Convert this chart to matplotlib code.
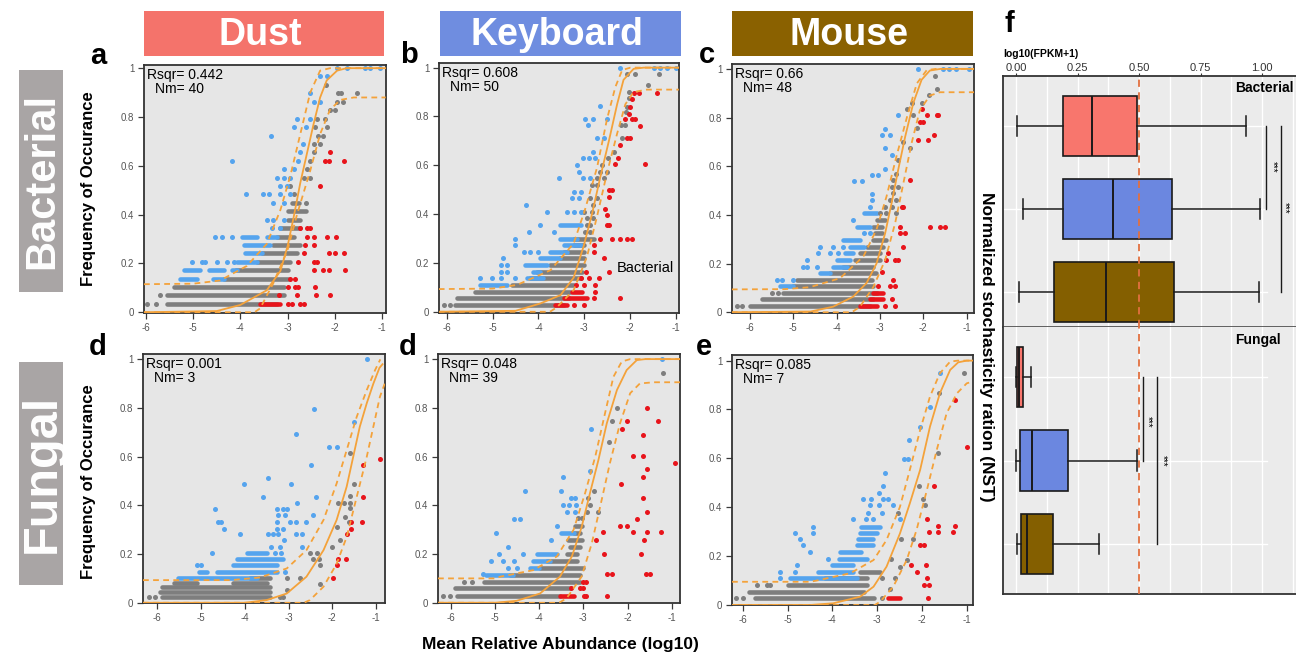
import matplotlib
matplotlib.use("Agg")
import matplotlib.pyplot as plt
from matplotlib.patches import Rectangle

plt.rcParams['font.family'] = ['Liberation Sans', 'DejaVu Sans']

W, H = 1296, 663

# ---------------- colours ----------------
BG = '#E6E6E6'
GRAY = '#7E7E7E'
BLUE = '#55A4EE'
RED = '#E8141B'
ORANGE = '#F4A23A'
HEAD_COLS = ['#F4736B', '#6F8DE0', '#8A6100']
BOX_COLS = ['#F8766D', '#6B87E0', '#845F00']

# ---------------- shared labels ----------------
sources = ['Dust', 'Keyboard', 'Mouse']
kingdoms = ['Bacterial', 'Fungal']
x_ticks = [-6, -5, -4, -3, -2, -1]
x_tick_labels = ['-6', '-5', '-4', '-3', '-2', '-1']
y_ticks = [0, 0.2, 0.4, 0.6, 0.8, 1.0]
y_tick_labels = ['0', '0.2', '0.4', '0.6', '0.8', '1']

# ---------------- panel a : Bacterial / Dust ----------------
a_rsqr, a_nm = '0.442', '40'
a_gray_rows = [(0.035, -5.55, -3.22), (0.069, -5.55, -3.08), (0.104, -5.41, -3.08),
               (0.138, -4.35, -3.0), (0.172, -4.1, -2.98), (0.207, -3.65, -2.94),
               (0.242, -3.54, -2.8), (0.276, -3.3, -2.73), (0.31, -3.22, -2.87),
               (0.345, -3.15, -2.73), (0.379, -2.98, -2.73), (0.414, -3.0, -2.6),
               (0.448, -2.9, -2.75)]
a_gray_pts = [(-5.98, 0.035), (-5.78, 0.035), (-5.7, 0.069), (-2.6, 0.448), (-2.87, 0.483),
              (-2.94, 0.518), (-2.66, 0.552), (-2.52, 0.552), (-2.59, 0.587), (-2.52, 0.62),
              (-2.45, 0.655), (-2.45, 0.69), (-2.31, 0.69), (-2.35, 0.724), (-2.24, 0.724),
              (-2.42, 0.758), (-2.17, 0.758), (-2.38, 0.793), (-2.21, 0.793), (-2.1, 0.828),
              (-2.0, 0.828), (-1.82, 0.862), (-1.96, 0.862), (-1.86, 0.897), (-1.93, 0.897),
              (-1.53, 0.897), (-2.19, 0.931)]
a_blue_rows = [(0.138, -5.27, -4.92), (0.138, -4.57, -4.35), (0.172, -5.2, -4.85),
               (0.172, -4.67, -4.35), (0.172, -4.18, -4.07), (0.207, -4.07, -3.65),
               (0.242, -3.9, -3.54), (0.276, -3.93, -3.37), (0.31, -3.97, -3.65),
               (0.31, -3.44, -3.22)]
a_blue_pts = [(-5.03, 0.207), (-4.81, 0.207), (-4.74, 0.207), (-4.5, 0.207), (-4.28, 0.207),
              (-4.14, 0.207), (-4.53, 0.31), (-4.39, 0.31), (-4.18, 0.31), (-3.33, 0.345),
              (-3.15, 0.345), (-3.44, 0.379), (-3.3, 0.379), (-3.07, 0.379), (-3.3, 0.448),
              (-3.07, 0.448), (-3.88, 0.483), (-3.52, 0.483), (-3.4, 0.483), (-3.15, 0.483),
              (-2.94, 0.483), (-3.15, 0.518), (-3.01, 0.518), (-3.22, 0.552), (-3.08, 0.552),
              (-2.94, 0.552), (-3.07, 0.587), (-2.87, 0.587), (-4.18, 0.62), (-2.77, 0.62),
              (-2.74, 0.655), (-2.67, 0.69), (-3.35, 0.724), (-2.86, 0.758), (-2.6, 0.758),
              (-2.8, 0.793), (-2.52, 0.793), (-2.45, 0.862), (-2.32, 0.862), (-2.53, 0.897),
              (-2.32, 0.966), (-2.17, 0.966), (-1.95, 1.0), (-1.74, 1.0), (-1.35, 1.0),
              (-1.25, 1.0), (-1.04, 1.0)]
a_red_rows = [(0.035, -3.58, -3.15)]
a_red_pts = [(-2.98, 0.035), (-2.91, 0.035), (-2.73, 0.035), (-2.66, 0.035), (-3.19, 0.069),
             (-2.79, 0.069), (-2.39, 0.069), (-2.1, 0.069), (-2.98, 0.104), (-2.84, 0.104),
             (-2.77, 0.104), (-2.41, 0.104), (-2.94, 0.138), (-2.84, 0.138), (-2.45, 0.172),
             (-2.24, 0.172), (-2.13, 0.172), (-1.78, 0.172), (-2.77, 0.207), (-2.45, 0.207),
             (-2.38, 0.207), (-2.66, 0.242), (-2.13, 0.242), (-1.99, 0.242), (-1.81, 0.242),
             (-2.62, 0.276), (-2.45, 0.276), (-2.59, 0.31), (-2.45, 0.31), (-2.17, 0.31),
             (-1.97, 0.31), (-2.73, 0.345), (-2.59, 0.345), (-2.52, 0.345), (-2.32, 0.518),
             (-2.2, 0.62), (-2.13, 0.62), (-1.81, 0.62), (-2.1, 0.655)]
a_fit_x = [-6.04, -4.5, -4.0, -3.44, -3.15, -3.0, -2.87, -2.73, -2.59, -2.45, -2.31, -2.17, -1.95, -1.75, -0.92]
a_fit_y = [0.0, 0.005, 0.03, 0.09, 0.17, 0.27, 0.39, 0.53, 0.65, 0.77, 0.88, 0.95, 0.99, 1.0, 1.0]
a_up_x = [-6.04, -5.0, -4.43, -3.86, -3.44, -3.15, -2.94, -2.73, -2.52, -2.31, -2.1, -0.92]
a_up_y = [0.115, 0.117, 0.13, 0.19, 0.28, 0.42, 0.56, 0.73, 0.9, 0.99, 1.0, 1.0]
a_lo_x = [-6.04, -3.7, -3.58, -3.3, -3.0, -2.8, -2.52, -2.31, -2.1, -1.88, -1.6, -0.92]
a_lo_y = [0.0, 0.0, 0.016, 0.12, 0.255, 0.4, 0.58, 0.73, 0.83, 0.87, 0.88, 0.88]

# ---------------- panel b : Bacterial / Keyboard ----------------
b_rsqr, b_nm = '0.608', '50'
b_gray_rows = [(0.027, -5.82, -3.45), (0.055, -5.78, -3.34), (0.082, -5.38, -3.3),
               (0.109, -4.58, -3.23), (0.137, -4.18, -3.08), (0.164, -4.03, -3.05),
               (0.191, -3.74, -3.01), (0.219, -3.52, -3.01), (0.246, -3.45, -3.01),
               (0.273, -3.23, -3.01), (0.3, -3.23, -2.79)]
b_gray_pts = [(-6.07, 0.027), (-5.93, 0.027), (-2.98, 0.328), (-2.87, 0.328), (-2.94, 0.355),
              (-2.87, 0.355), (-2.94, 0.383), (-2.81, 0.383), (-3.01, 0.41), (-2.83, 0.41),
              (-2.81, 0.437), (-2.87, 0.465), (-2.72, 0.465), (-2.83, 0.52), (-2.72, 0.52),
              (-2.72, 0.547), (-2.57, 0.547), (-2.65, 0.574), (-2.5, 0.574), (-2.6, 0.602),
              (-2.47, 0.63), (-2.35, 0.656), (-2.17, 0.71), (-2.19, 0.765), (-2.1, 0.765),
              (-2.08, 0.82), (-2.06, 0.84), (-2.03, 0.875), (-2.01, 0.9), (-1.61, 0.93),
              (-2.06, 0.975), (-1.9, 0.975), (-1.36, 0.975)]
b_blue_rows = [(0.109, -5.27, -4.69), (0.137, -4.25, -3.89), (0.164, -4.11, -3.96),
               (0.191, -4.29, -3.81), (0.219, -3.96, -3.52), (0.246, -3.74, -3.38),
               (0.273, -3.45, -3.08), (0.3, -3.52, -3.16), (0.355, -3.52, -3.08)]
b_blue_pts = [(-5.27, 0.137), (-5.02, 0.137), (-4.83, 0.137), (-4.51, 0.137), (-4.83, 0.164),
              (-4.69, 0.164), (-4.83, 0.191), (-4.69, 0.191), (-4.78, 0.219), (-4.32, 0.246),
              (-4.18, 0.246), (-4.0, 0.246), (-4.51, 0.273), (-4.51, 0.3), (-4.21, 0.328),
              (-3.67, 0.328), (-3.96, 0.355), (-3.81, 0.41), (-3.38, 0.41), (-3.23, 0.41),
              (-3.08, 0.41), (-4.27, 0.437), (-3.27, 0.465), (-3.12, 0.465), (-3.23, 0.492),
              (-3.08, 0.492), (-3.56, 0.547), (-3.03, 0.547), (-2.88, 0.547), (-3.11, 0.574),
              (-3.16, 0.602), (-3.03, 0.63), (-2.9, 0.63), (-2.76, 0.63), (-2.8, 0.656),
              (-2.72, 0.71), (-2.57, 0.71), (-2.92, 0.765), (-2.98, 0.79), (-2.81, 0.79),
              (-2.5, 0.79), (-2.65, 0.843), (-2.21, 1.0), (-1.48, 1.0), (-1.34, 1.0),
              (-1.19, 1.0), (-0.99, 1.0)]
b_red_rows = [(0.027, -3.63, -3.38), (0.055, -3.45, -2.94), (0.082, -3.27, -3.05)]
b_red_pts = [(-3.23, 0.027), (-3.01, 0.027), (-2.79, 0.055), (-2.21, 0.055), (-2.76, 0.082),
             (-3.19, 0.109), (-3.01, 0.109), (-2.76, 0.109), (-3.08, 0.137), (-2.9, 0.137),
             (-2.68, 0.137), (-2.97, 0.164), (-2.46, 0.164), (-2.56, 0.219), (-2.79, 0.246),
             (-2.79, 0.273), (-2.65, 0.3), (-2.39, 0.3), (-2.21, 0.3), (-2.06, 0.3),
             (-1.95, 0.3), (-2.5, 0.355), (-2.46, 0.355), (-2.5, 0.396), (-2.54, 0.42),
             (-2.46, 0.47), (-2.46, 0.5), (-2.39, 0.5), (-2.32, 0.605), (-1.66, 0.605),
             (-2.25, 0.63), (-2.21, 0.683), (-2.06, 0.71), (-2.0, 0.71), (-1.77, 0.76),
             (-2.1, 0.79), (-1.95, 0.79), (-1.88, 0.79), (-2.0, 0.84), (-2.03, 0.81),
             (-1.95, 0.87), (-1.92, 0.895), (-1.81, 0.895), (-1.41, 0.895)]
b_fit_x = [-6.18, -4.5, -3.96, -3.52, -3.23, -3.01, -2.83, -2.65, -2.46, -2.28, -2.14, -1.92, -1.7, -0.93]
b_fit_y = [0.0, 0.004, 0.034, 0.068, 0.14, 0.27, 0.40, 0.55, 0.70, 0.85, 0.95, 0.995, 1.0, 1.0]
b_up_x = [-6.18, -5.0, -4.47, -3.74, -3.23, -2.98, -2.72, -2.5, -2.32, -2.17, -1.99, -0.93]
b_up_y = [0.093, 0.095, 0.11, 0.17, 0.28, 0.42, 0.59, 0.79, 0.92, 0.99, 1.0, 1.0]
b_lo_x = [-6.18, -3.75, -3.6, -3.23, -2.94, -2.72, -2.5, -2.28, -2.1, -1.92, -1.63, -0.93]
b_lo_y = [0.0, 0.0, 0.018, 0.089, 0.225, 0.39, 0.57, 0.73, 0.85, 0.9, 0.91, 0.91]

# ---------------- panel c : Bacterial / Mouse ----------------
c_rsqr, c_nm = '0.66', '48'
c_gray_rows = [(0.026, -6.0, -3.23), (0.053, -5.73, -3.15), (0.081, -5.23, -3.08),
               (0.108, -5.0, -3.15), (0.133, -4.92, -3.19), (0.16, -4.15, -3.1),
               (0.188, -3.85, -3.15), (0.215, -3.58, -3.0), (0.242, -3.46, -3.0),
               (0.27, -3.31, -2.92), (0.297, -3.15, -2.85), (0.325, -3.12, -2.96),
               (0.352, -3.15, -2.96), (0.38, -3.08, -2.88)]
c_gray_pts = [(-6.31, 0.026), (-6.19, 0.026), (-5.5, 0.081), (-5.35, 0.081), (-3.0, 0.407),
              (-2.85, 0.407), (-2.62, 0.407), (-2.88, 0.434), (-2.73, 0.434), (-2.77, 0.46),
              (-2.62, 0.46), (-2.69, 0.49), (-2.73, 0.516), (-2.58, 0.516), (-2.69, 0.544),
              (-2.62, 0.57), (-2.58, 0.626), (-2.31, 0.674), (-2.46, 0.70), (-2.15, 0.756),
              (-2.23, 0.81), (-2.38, 0.834), (-2.27, 0.86), (-2.04, 0.86), (-1.88, 0.893),
              (-1.69, 0.916), (-1.73, 0.97)]
c_blue_rows = [(0.108, -5.31, -5.0), (0.16, -4.38, -4.15), (0.188, -4.08, -3.77),
               (0.215, -4.0, -3.69), (0.245, -3.81, -3.62), (0.27, -3.69, -3.38),
               (0.297, -3.85, -3.46), (0.352, -3.54, -3.23), (0.407, -3.38, -3.08)]
c_blue_pts = [(-5.38, 0.133), (-5.27, 0.133), (-5.0, 0.133), (-4.77, 0.188), (-4.69, 0.188),
              (-4.46, 0.188), (-4.69, 0.215), (-4.42, 0.245), (-4.15, 0.245), (-3.96, 0.245),
              (-4.38, 0.27), (-4.08, 0.27), (-3.85, 0.27), (-3.38, 0.325), (-3.23, 0.325),
              (-3.62, 0.38), (-3.23, 0.434), (-3.19, 0.46), (-3.19, 0.486), (-3.6, 0.54),
              (-3.42, 0.54), (-3.19, 0.564), (-3.04, 0.564), (-2.88, 0.59), (-2.88, 0.674),
              (-2.73, 0.646), (-2.96, 0.73), (-2.77, 0.73), (-2.88, 0.753), (-2.58, 0.81),
              (-2.12, 1.0), (-1.55, 1.0), (-1.4, 1.0), (-1.25, 1.0), (-0.94, 1.0)]
c_red_rows = [(0.026, -3.46, -3.08), (0.053, -3.23, -2.92), (0.081, -3.15, -2.92)]
c_red_pts = [(-2.88, 0.026), (-2.65, 0.026), (-2.73, 0.053), (-3.04, 0.108), (-2.77, 0.108),
             (-2.69, 0.133), (-2.65, 0.108), (-2.96, 0.167), (-2.85, 0.215), (-2.65, 0.215),
             (-2.58, 0.215), (-2.81, 0.242), (-2.46, 0.27), (-2.54, 0.325), (-2.42, 0.325),
             (-2.54, 0.352), (-1.85, 0.352), (-1.62, 0.352), (-1.5, 0.352), (-2.5, 0.434),
             (-2.46, 0.434), (-2.31, 0.544), (-2.12, 0.708), (-1.9, 0.708), (-1.75, 0.73),
             (-2.08, 0.783), (-2.0, 0.783), (-1.92, 0.81), (-1.69, 0.81), (-1.65, 0.81),
             (-2.02, 0.834)]
c_fit_x = [-6.42, -4.6, -4.08, -3.62, -3.31, -3.08, -2.88, -2.73, -2.58, -2.42, -2.23, -2.04, -1.85, -1.6, -0.83]
c_fit_y = [0.0, 0.003, 0.023, 0.064, 0.12, 0.2, 0.325, 0.45, 0.585, 0.72, 0.86, 0.955, 0.993, 1.0, 1.0]
c_up_x = [-6.42, -5.2, -4.62, -3.92, -3.38, -3.08, -2.85, -2.62, -2.38, -2.15, -1.92, -1.7, -0.83]
c_up_y = [0.094, 0.095, 0.103, 0.14, 0.23, 0.34, 0.475, 0.64, 0.8, 0.94, 0.995, 1.0, 1.0]
c_lo_x = [-6.42, -3.65, -3.46, -3.15, -2.88, -2.65, -2.46, -2.27, -2.08, -1.85, -1.62, -0.83]
c_lo_y = [0.0, 0.0, 0.023, 0.105, 0.215, 0.366, 0.53, 0.695, 0.83, 0.89, 0.904, 0.904]

# ---------------- panel d : Fungal / Dust ----------------
d_rsqr, d_nm = '0.001', '3'
d_gray_rows = [(0.025, -5.9, -3.42), (0.045, -5.94, -3.42), (0.063, -5.9, -3.42),
               (0.08, -5.63, -5.1), (0.08, -4.26, -3.5), (0.1, -3.88, -3.42)]
d_gray_pts = [(-6.2, 0.025), (-6.05, 0.025), (-3.2, 0.025), (-3.12, 0.025), (-3.03, 0.052),
              (-3.04, 0.1), (-2.74, 0.1), (-2.28, 0.077), (-2.51, 0.205), (-2.36, 0.205),
              (-2.43, 0.178), (-2.3, 0.178), (-2.27, 0.155), (-2.01, 0.23), (-1.9, 0.31),
              (-1.86, 0.41), (-1.74, 0.41), (-1.59, 0.41), (-1.82, 0.257), (-1.71, 0.353),
              (-1.6, 0.44), (-1.5, 0.488), (-1.59, 0.616), (-1.6, 0.39), (-1.62, 0.33)]
d_blue_rows = [(0.1, -5.54, -3.73), (0.127, -5.06, -4.87), (0.127, -4.64, -3.27),
               (0.155, -4.26, -3.27), (0.178, -4.19, -3.12), (0.205, -3.96, -3.5)]
d_blue_pts = [(-3.08, 0.127), (-5.1, 0.155), (-5.0, 0.155), (-3.3, 0.205), (-3.17, 0.205),
              (-4.74, 0.205), (-2.7, 0.23), (-3.4, 0.23), (-3.2, 0.23), (-3.1, 0.257),
              (-4.12, 0.282), (-3.47, 0.282), (-3.35, 0.282), (-3.24, 0.282), (-2.82, 0.282),
              (-2.7, 0.282), (-4.47, 0.305), (-3.27, 0.305), (-3.12, 0.305), (-4.61, 0.333),
              (-4.55, 0.333), (-3.27, 0.333), (-2.97, 0.333), (-2.82, 0.333), (-2.59, 0.333),
              (-3.24, 0.36), (-3.09, 0.36), (-2.43, 0.36), (-4.69, 0.384), (-3.27, 0.384),
              (-3.12, 0.384), (-3.03, 0.384), (-2.8, 0.41), (-3.59, 0.436), (-2.37, 0.436),
              (-4.01, 0.488), (-2.95, 0.488), (-3.48, 0.514), (-2.49, 0.566), (-2.07, 0.641),
              (-1.9, 0.641), (-2.83, 0.693), (-1.5, 0.744), (-2.41, 0.796), (-1.21, 1.0)]
d_red_rows = []
d_red_pts = [(-1.98, 0.1), (-1.9, 0.155), (-1.86, 0.178), (-1.69, 0.178), (-1.67, 0.282),
             (-1.58, 0.305), (-1.58, 0.333), (-1.33, 0.333), (-1.29, 0.436), (-1.29, 0.566),
             (-0.91, 0.589)]
d_fit_x = [-6.33, -4.0, -3.5, -3.04, -2.59, -2.2, -1.9, -1.67, -1.52, -1.37, -1.21, -1.06, -0.92, -0.85]
d_fit_y = [0.0, 0.0, 0.011, 0.038, 0.107, 0.216, 0.34, 0.477, 0.6, 0.723, 0.82, 0.9, 0.965, 0.98]
d_up_x = [-6.33, -4.3, -3.65, -3.04, -2.59, -2.2, -1.9, -1.67, -1.44, -1.21, -1.02, -0.9]
d_up_y = [0.093, 0.093, 0.104, 0.141, 0.216, 0.34, 0.49, 0.627, 0.764, 0.874, 0.956, 1.0]
d_lo_x = [-6.33, -2.65, -2.51, -2.2, -1.9, -1.67, -1.44, -1.21, -1.06, -0.91, -0.8]
d_lo_y = [0.0, 0.0, 0.011, 0.066, 0.16, 0.27, 0.435, 0.6, 0.723, 0.846, 0.9]

# ---------------- panel d (middle) : Fungal / Keyboard ----------------
k_rsqr, k_nm = '0.048', '39'
k_gray_rows = [(0.029, -5.86, -3.53), (0.059, -5.9, -3.3), (0.086, -5.26, -3.07),
               (0.114, -4.66, -3.07), (0.144, -3.98, -3.0), (0.172, -3.83, -3.15),
               (0.2, -3.38, -3.15), (0.23, -3.3, -3.07), (0.257, -3.34, -3.04),
               (0.287, -3.22, -3.07), (0.316, -3.19, -3.04)]
k_gray_pts = [(-6.17, 0.029), (-6.02, 0.029), (-5.71, 0.086), (-5.52, 0.086), (-3.11, 0.346),
              (-3.04, 0.346), (-2.92, 0.373), (-2.66, 0.373), (-2.85, 0.4), (-2.89, 0.43),
              (-2.77, 0.46), (-2.43, 0.658), (-2.36, 0.747), (-2.24, 0.8), (-1.2, 0.944)]
k_blue_rows = [(0.114, -5.2, -4.6), (0.144, -4.2, -4.0), (0.172, -4.13, -3.75),
               (0.2, -4.05, -3.6), (0.287, -3.5, -3.22)]
k_blue_pts = [(-5.28, 0.116), (-4.71, 0.144), (-4.5, 0.144), (-4.91, 0.2), (-4.37, 0.2),
              (-5.1, 0.172), (-4.82, 0.172), (-4.57, 0.172), (-4.71, 0.227), (-3.73, 0.257),
              (-4.97, 0.287), (-3.6, 0.316), (-4.57, 0.343), (-4.43, 0.343), (-3.38, 0.373),
              (-3.2, 0.373), (-3.47, 0.4), (-3.32, 0.4), (-3.17, 0.4), (-3.27, 0.43),
              (-3.18, 0.43), (-4.33, 0.457), (-3.5, 0.457), (-3.47, 0.517), (-2.86, 0.54),
              (-2.83, 0.715), (-1.21, 1.0)]
k_red_rows = [(0.029, -3.53, -3.22)]
k_red_pts = [(-2.98, 0.029), (-2.94, 0.029), (-2.47, 0.029), (-3.27, 0.059), (-3.07, 0.059),
             (-3.01, 0.059), (-3.0, 0.086), (-2.93, 0.086), (-2.46, 0.116), (-2.35, 0.116),
             (-2.53, 0.2), (-1.7, 0.2), (-2.72, 0.257), (-1.62, 0.257), (-2.56, 0.289),
             (-1.87, 0.289), (-1.55, 0.289), (-1.25, 0.289), (-2.17, 0.315), (-2.02, 0.315),
             (-1.79, 0.342), (-1.57, 0.373), (-1.66, 0.43), (-2.15, 0.487), (-1.64, 0.517),
             (-1.57, 0.547), (-0.92, 0.572), (-1.87, 0.602), (-1.64, 0.602), (-1.64, 0.688),
             (-2.13, 0.713), (-2.02, 0.747), (-1.32, 0.747), (-1.57, 0.8), (-1.58, 0.116),
             (-1.5, 0.116)]
k_fit_x = [-6.29, -5.0, -4.51, -3.98, -3.53, -3.26, -3.04, -2.85, -2.66, -2.47, -2.24, -2.02, -1.79, -1.6, -0.81]
k_fit_y = [0.0, 0.0, 0.008, 0.038, 0.107, 0.19, 0.31, 0.45, 0.585, 0.736, 0.873, 0.955, 0.996, 1.0, 1.0]
k_up_x = [-6.29, -5.0, -4.88, -4.13, -3.6, -3.22, -2.96, -2.73, -2.51, -2.32, -2.13, -1.94, -0.81]
k_up_y = [0.1, 0.1, 0.107, 0.134, 0.19, 0.3, 0.45, 0.6, 0.777, 0.927, 0.99, 1.0, 1.0]
k_lo_x = [-6.29, -3.55, -3.38, -3.04, -2.81, -2.62, -2.4, -2.17, -1.94, -1.72, -1.41, -0.81]
k_lo_y = [0.0, 0.0, 0.018, 0.107, 0.243, 0.394, 0.572, 0.736, 0.86, 0.9, 0.905, 0.905]

# ---------------- panel e : Fungal / Mouse ----------------
e_rsqr, e_nm = '0.085', '7'
e_gray_rows = [(0.03, -5.72, -3.08), (0.055, -5.87, -3.3), (0.082, -5.0, -3.23),
               (0.109, -4.16, -3.23), (0.136, -3.38, -2.93)]
e_gray_pts = [(-6.15, 0.03), (-6.0, 0.03), (-2.9, 0.03), (-5.69, 0.082), (-5.46, 0.082),
              (-5.4, 0.082), (-2.71, 0.064), (-2.49, 0.157), (-2.7, 0.187), (-2.34, 0.184),
              (-2.47, 0.27), (-2.19, 0.27), (-2.53, 0.378), (-2.06, 0.487), (-1.98, 0.432),
              (-1.94, 0.41), (-1.65, 0.62), (-1.61, 0.866), (-1.07, 0.948), (-2.9, 0.109),
              (-2.6, 0.109)]
e_blue_rows = [(0.109, -4.94, -3.46), (0.136, -4.31, -3.53), (0.164, -4.0, -3.55),
               (0.19, -3.86, -3.23), (0.218, -3.82, -3.37), (0.245, -3.45, -3.1),
               (0.27, -3.42, -3.1), (0.296, -3.38, -3.01), (0.32, -3.35, -2.93)]
e_blue_pts = [(-5.17, 0.136), (-5.17, 0.109), (-4.83, 0.136), (-4.78, 0.164), (-4.09, 0.187),
              (-4.5, 0.218), (-4.65, 0.245), (-4.72, 0.269), (-4.83, 0.296), (-4.44, 0.296),
              (-4.44, 0.32), (-3.54, 0.35), (-3.25, 0.35), (-3.1, 0.35), (-2.5, 0.35),
              (-3.2, 0.378), (-2.9, 0.378), (-3.15, 0.41), (-2.95, 0.41), (-2.65, 0.41),
              (-3.32, 0.432), (-3.14, 0.432), (-2.87, 0.432), (-2.75, 0.432), (-2.86, 0.487),
              (-2.95, 0.46), (-2.82, 0.54), (-2.4, 0.596), (-2.3, 0.596), (-2.28, 0.675),
              (-2.04, 0.73), (-1.83, 0.812), (-1.6, 0.948)]
e_red_rows = [(0.03, -2.75, -2.49)]
e_red_pts = [(-1.87, 0.03), (-1.96, 0.082), (-1.85, 0.082), (-1.89, 0.109), (-2.12, 0.136),
             (-2.24, 0.164), (-1.9, 0.164), (-2.04, 0.245), (-1.96, 0.245), (-1.84, 0.3),
             (-1.65, 0.3), (-1.3, 0.3), (-1.64, 0.325), (-1.27, 0.325), (-1.89, 0.35),
             (-1.74, 0.487), (-1.0, 0.648), (-1.26, 0.84)]
e_fit_x = [-6.24, -4.5, -3.98, -3.38, -3.08, -2.79, -2.49, -2.27, -2.04, -1.82, -1.6, -1.37, -1.19, -1.0, -0.86]
e_fit_y = [0.0, 0.0, 0.007, 0.034, 0.075, 0.157, 0.293, 0.416, 0.553, 0.73, 0.866, 0.962, 0.993, 1.0, 1.0]
e_up_x = [-6.24, -4.5, -4.35, -3.6, -3.08, -2.79, -2.49, -2.27, -2.04, -1.82, -1.6, -1.37, -1.2, -0.86]
e_up_y = [0.095, 0.095, 0.1, 0.13, 0.184, 0.266, 0.402, 0.553, 0.716, 0.853, 0.948, 0.996, 1.0, 1.0]
e_lo_x = [-6.24, -3.05, -2.93, -2.64, -2.34, -2.12, -1.89, -1.67, -1.45, -1.22, -1.0, -0.86]
e_lo_y = [0.0, 0.0, 0.014, 0.075, 0.184, 0.307, 0.47, 0.634, 0.784, 0.866, 0.907, 0.915]

# ---------------- panel f : NST boxplots ----------------
bac_low = [0.004, 0.028, 0.012]
bac_q1 = [0.19, 0.19, 0.155]
bac_med = [0.31, 0.395, 0.366]
bac_q3 = [0.49, 0.634, 0.642]
bac_high = [0.935, 0.99, 0.988]
fun_low = [0.0, 0.0, 0.003]
fun_q1 = [0.005, 0.016, 0.02]
fun_med = [0.012, 0.065, 0.045]
fun_q3 = [0.03, 0.21, 0.15]
fun_high = [0.062, 0.49, 0.337]
f_ticks = [0.0, 0.25, 0.5, 0.75, 1.0]
f_tick_labels = ['0.00', '0.25', '0.50', '0.75', '1.00']
f_grid = [0.0, 0.125, 0.25, 0.375, 0.5, 0.625, 0.75, 0.875, 1.0, 1.125]
nst_threshold = 0.5
# significance brackets: (x position, from group, to group, label x, label y)
bac_sig = [(1.016, 1, 2, 1.045, 1.49), (1.077, 1, 3, 1.094, 1.98)]
fun_sig = [(0.516, 1, 2, 0.537, 1.54), (0.573, 1, 3, 0.598, 2.0)]


# ================= drawing =================
def frect(l, t, r, b):
    return [l / W, 1 - b / H, (r - l) / W, (b - t) / H]


def fx(px):
    return px / W


def fy(py):
    return 1 - py / H


fig = plt.figure(figsize=(W / 100, H / 100), dpi=100)


def draw_panel(frame, xlim, ylim, grows, gpts, brows, bpts, rrows, rpts,
               fitx, fity, upx, upy, lox, loy, rsqr, nm):
    ax = fig.add_axes(frect(*frame))
    ax.set_facecolor(BG)
    for rows, col in ((grows, GRAY), (brows, BLUE), (rrows, RED)):
        for y, x0, x1 in rows:
            ax.plot([x0, x1], [y, y], color=col, lw=3.3, solid_capstyle='round', zorder=2)
    for pts, col in ((gpts, GRAY), (bpts, BLUE), (rpts, RED)):
        if pts:
            ax.scatter([p[0] for p in pts], [p[1] for p in pts], s=13, color=col,
                       linewidths=0, zorder=2)
    ax.plot(fitx, fity, color=ORANGE, lw=1.3, zorder=3)
    ax.plot(upx, upy, color=ORANGE, lw=1.3, ls=(0, (3.2, 2.4)), zorder=3)
    ax.plot(lox, loy, color=ORANGE, lw=1.3, ls=(0, (3.2, 2.4)), zorder=3)
    ax.set_xlim(*xlim)
    ax.set_ylim(*ylim)
    ax.set_xticks(x_ticks)
    ax.set_xticklabels(x_tick_labels)
    ax.set_yticks(y_ticks)
    ax.set_yticklabels(y_tick_labels)
    ax.tick_params(length=4, width=0.9, labelsize=7, colors='#3a3a3a', labelcolor='#555555', pad=3)
    for s in ax.spines.values():
        s.set_color('#333333')
        s.set_linewidth(1.3)
    l, t = frame[0], frame[1]
    fig.text(fx(l + 3), fy(t + 10), 'Rsqr= ' + rsqr, fontsize=10, ha='left', va='center')
    fig.text(fx(l + 11), fy(t + 24), 'Nm= ' + nm, fontsize=10, ha='left', va='center')
    return ax


axa = draw_panel((144, 65, 386, 313), (-6.04, -0.915), (-0.003, 1.013),
                 a_gray_rows, a_gray_pts, a_blue_rows, a_blue_pts, a_red_rows, a_red_pts,
                 a_fit_x, a_fit_y, a_up_x, a_up_y, a_lo_x, a_lo_y, a_rsqr, a_nm)
axb_ = draw_panel((439, 63, 679, 313), (-6.175, -0.927), (-0.005, 1.019),
                  b_gray_rows, b_gray_pts, b_blue_rows, b_blue_pts, b_red_rows, b_red_pts,
                  b_fit_x, b_fit_y, b_up_x, b_up_y, b_lo_x, b_lo_y, b_rsqr, b_nm)
axc = draw_panel((732, 64, 974, 313), (-6.415, -0.83), (-0.003, 1.02),
                 c_gray_rows, c_gray_pts, c_blue_rows, c_blue_pts, c_red_rows, c_red_pts,
                 c_fit_x, c_fit_y, c_up_x, c_up_y, c_lo_x, c_lo_y, c_rsqr, c_nm)
axd = draw_panel((143, 354, 385, 603), (-6.33, -0.793), (-0.001, 1.022),
                 d_gray_rows, d_gray_pts, d_blue_rows, d_blue_pts, d_red_rows, d_red_pts,
                 d_fit_x, d_fit_y, d_up_x, d_up_y, d_lo_x, d_lo_y, d_rsqr, d_nm)
axk = draw_panel((438, 354, 680, 603), (-6.29, -0.812), (-0.001, 1.021),
                 k_gray_rows, k_gray_pts, k_blue_rows, k_blue_pts, k_red_rows, k_red_pts,
                 k_fit_x, k_fit_y, k_up_x, k_up_y, k_lo_x, k_lo_y, k_rsqr, k_nm)
axe = draw_panel((732, 355, 973, 605), (-6.24, -0.86), (0.0, 1.023),
                 e_gray_rows, e_gray_pts, e_blue_rows, e_blue_pts, e_red_rows, e_red_pts,
                 e_fit_x, e_fit_y, e_up_x, e_up_y, e_lo_x, e_lo_y, e_rsqr, e_nm)

axb_.text(0.86, 0.18, 'Bacterial', transform=axb_.transAxes, fontsize=10.5, ha='center', va='center')

# panel letters
for letter, (px, py) in zip(['a', 'b', 'c', 'd', 'd', 'e', 'f'],
                            [(98, 56), (409, 55), (707, 55), (98, 347), (408, 347), (704, 347), (1009, 24)]):
    fig.text(fx(px), fy(py), letter, fontsize=21, fontweight='bold', ha='center', va='center')

# column headers
for name, col, (l, r) in zip(sources, HEAD_COLS, [(144, 384), (440, 681), (732, 973)]):
    fig.add_artist(Rectangle((fx(l), fy(56)), (r - l) / W, 45 / H, transform=fig.transFigure,
                             facecolor=col, edgecolor='none'))
    fig.text(fx((l + r) / 2 - 4), fy(35), name, color='white', fontsize=27, fontweight='bold',
             ha='center', va='center')

# row headers
for name, (t, b), fs in zip(kingdoms, [(70, 292), (362, 585)], [30, 35]):
    fig.add_artist(Rectangle((fx(19), fy(b)), 44 / W, (b - t) / H, transform=fig.transFigure,
                             facecolor='#A9A5A5', edgecolor='none'))
    fig.text(fx(42), fy((t + b) / 2), name, color='white', fontsize=fs, fontweight='bold',
             rotation=90, ha='center', va='center')

# y labels and shared x label
fig.text(fx(88), fy(189), 'Frequency of Occurance', rotation=90, fontsize=12,
         fontweight='bold', ha='center', va='center')
fig.text(fx(88), fy(482), 'Frequency of Occurance', rotation=90, fontsize=12,
         fontweight='bold', ha='center', va='center')
fig.text(fx(560), fy(645), 'Mean Relative Abundance (log10)', fontsize=12.5,
         fontweight='bold', ha='center', va='center')


# ---------------- panel f ----------------
def draw_box_panel(frame, ylim, low, q1, med, q3, high, sig):
    ax = fig.add_axes(frect(*frame))
    ax.set_facecolor('#EBEBEB')
    for v in f_grid:
        ax.axvline(v, color='white', lw=1.0, zorder=0)
    for yy in [1, 2, 3]:
        ax.axhline(yy, xmax=0.9, color='white', lw=1.0, zorder=0)
    stats = [dict(whislo=low[i], q1=q1[i], med=med[i], q3=q3[i], whishi=high[i], fliers=[],
                  label=sources[i]) for i in range(3)]
    bp = ax.bxp(stats, positions=[1, 2, 3], widths=0.72, capwidths=0.24, orientation='horizontal',
                patch_artist=True, showfliers=False,
                boxprops=dict(linewidth=1.2, edgecolor='#1a1a1a'),
                medianprops=dict(color='#1a1a1a', linewidth=1.4),
                whiskerprops=dict(color='#1a1a1a', linewidth=1.1),
                capprops=dict(color='#1a1a1a', linewidth=1.1))
    for patch, col in zip(bp['boxes'], BOX_COLS):
        patch.set_facecolor(col)
    ax.axvline(nst_threshold, color='#E2703F', lw=1.3, ls=(0, (4, 3)), zorder=4)
    for xs, g0, g1, lx, ly in sig:
        ax.plot([xs, xs], [g0, g1], color='#1a1a1a', lw=1.0, zorder=5)
        ax.text(lx, ly, '***', rotation=270, fontsize=7, ha='center', va='center')
    ax.set_xlim(-0.053, 1.138)
    ax.set_ylim(*ylim)
    ax.set_yticks([])
    ax.spines['right'].set_visible(False)
    for s in ('left', 'top', 'bottom'):
        ax.spines[s].set_color('#333333')
        ax.spines[s].set_linewidth(1.3)
    return ax


axfb = draw_box_panel((1003, 76, 1296, 327), (3.42, 0.4), bac_low, bac_q1, bac_med, bac_q3, bac_high, bac_sig)
axff = draw_box_panel((1003, 327, 1296, 594), (3.6, 0.4), fun_low, fun_q1, fun_med, fun_q3, fun_high, fun_sig)
axfb.xaxis.tick_top()
axfb.set_xticks(f_ticks)
axfb.set_xticklabels(f_tick_labels)
axfb.tick_params(axis='x', length=2, width=0.8, labelsize=8, colors='#333333', pad=0.5)
axfb.spines['bottom'].set_color('#555555')
axff.spines['top'].set_visible(False)
axff.set_xticks([])

fig.text(fx(1003), fy(54), 'log10(FPKM+1)', fontsize=7.5, fontweight='bold', ha='left', va='center')
fig.text(fx(1235), fy(88), 'Bacterial', fontsize=10, fontweight='bold', ha='left', va='center')
fig.text(fx(1235), fy(340), 'Fungal', fontsize=10, fontweight='bold', ha='left', va='center')
fig.text(fx(986), fy(347), 'Normalized stochasticity ration (NST)', rotation=270, fontsize=12.5,
         fontweight='bold', ha='center', va='center')

fig.savefig('out.png', dpi=100)
